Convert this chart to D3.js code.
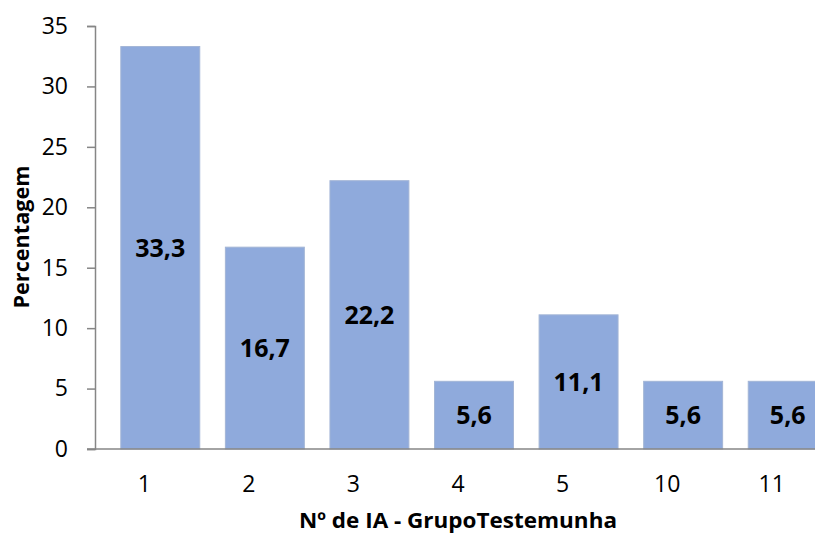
<!DOCTYPE html>
<html>
<head>
<meta charset="utf-8">
<script src="https://cdn.jsdelivr.net/npm/d3@7"></script>
<style>
  body { margin: 0; background: #fff; }
  svg { display: block; font-family: "Open Sans", Lato, sans-serif; }
</style>
</head>
<body>
<svg id="chart" width="815" height="535"></svg>
<script>
// Number of artificial inseminations in the control group, and the share of animals (%)
const categories = ["1", "2", "3", "4", "5", "10", "11"];
const percentages = [33.3, 16.7, 22.2, 5.6, 11.1, 5.6, 5.6];
const yTicks = [0, 5, 10, 15, 20, 25, 30, 35];

const svg = d3.select("#chart");
const plotLeft = 95, plotTop = 26, plotBottom = 449, plotRight = 827;

const y = d3.scaleLinear().domain([0, 35]).range([plotBottom, plotTop]);

// category positions for the tick labels
const x = d3.scaleBand().domain(categories).range([plotLeft - 3, plotRight - 3]).padding(0);
// bar slots are set slightly to the right of the labels
const xb = d3.scaleBand().domain(categories).range([plotLeft + 13, plotRight + 13]).paddingInner(0.245).paddingOuter(0.1225);

const fmt = v => d3.format(".1f")(v).replace(".", ",");

// bars
svg.append("g").selectAll("rect").data(percentages).join("rect")
  .attr("x", (d, i) => xb(categories[i]))
  .attr("y", d => y(d))
  .attr("width", xb.bandwidth())
  .attr("height", d => plotBottom - y(d))
  .attr("fill", "#8FAADC")
  .attr("stroke", "#A3B5D6")
  .attr("stroke-width", 1);

// value labels centred in each bar
svg.append("g").selectAll("text").data(percentages).join("text")
  .attr("x", (d, i) => xb(categories[i]) + xb.bandwidth() / 2)
  .attr("y", d => (y(d) + plotBottom) / 2)
  .attr("dy", "0.36em")
  .attr("text-anchor", "middle")
  .attr("font-weight", "bold")
  .attr("font-size", 25)
  .attr("fill", "#000")
  .text(d => fmt(d));

// y axis
const yAxis = d3.axisLeft(y).tickValues(yTicks).tickSize(8).tickPadding(19);
const gy = svg.append("g").attr("transform", `translate(${plotLeft},0)`).call(yAxis);
gy.select(".domain").attr("stroke", "#868686").attr("stroke-width", 1.5);
gy.selectAll(".tick line").attr("stroke", "#868686").attr("stroke-width", 1.5);
gy.selectAll(".tick text").attr("font-size", 23).attr("fill", "#000")
  .attr("font-family", "'Open Sans', sans-serif");

// x axis baseline and category labels
const xAxis = d3.axisBottom(x).tickSize(0).tickPadding(27);
const gx = svg.append("g").attr("transform", `translate(0,${plotBottom})`).call(xAxis);
gx.select(".domain").remove();
gx.append("line").attr("x1", plotLeft - 8).attr("x2", 815).attr("y1", 0).attr("y2", 0)
  .attr("stroke", "#868686").attr("stroke-width", 1.5);
gx.selectAll(".tick text").attr("font-size", 23).attr("fill", "#000")
  .attr("font-family", "'Open Sans', sans-serif");

// axis titles
svg.append("text")
  .attr("x", 458).attr("y", 520).attr("dy", "0.36em")
  .attr("text-anchor", "middle").attr("font-weight", "bold").attr("font-size", 21)
  .attr("textLength", 318).attr("lengthAdjust", "spacingAndGlyphs")
  .text("Nº de IA - GrupoTestemunha");

svg.append("text")
  .attr("transform", "translate(29,237) rotate(-90)")
  .attr("text-anchor", "middle").attr("font-weight", "bold").attr("font-size", 22)
  .attr("textLength", 143).attr("lengthAdjust", "spacingAndGlyphs")
  .text("Percentagem");
</script>
</body>
</html>
